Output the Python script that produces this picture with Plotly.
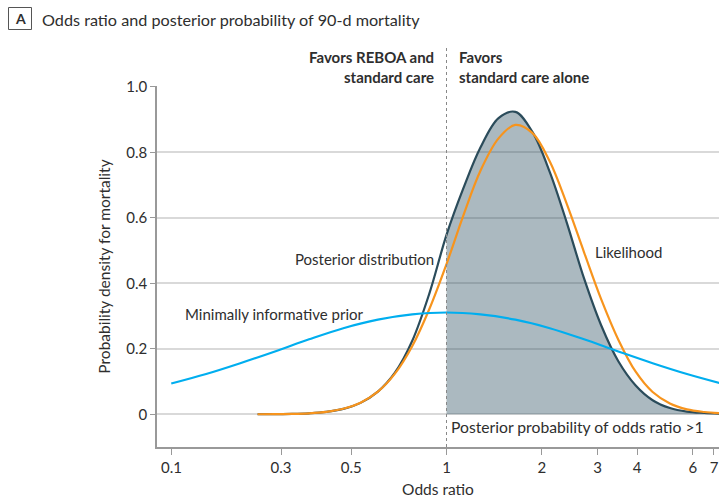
import plotly.graph_objects as go
import math

# ---- data ----
odds_ratio_prior = [0.135, 0.174, 0.223, 0.287, 0.368, 0.472, 0.607, 0.779, 1.0,
                    1.28, 1.65, 2.12, 2.72, 3.49, 4.48, 5.75, 7.39]
prior_density = [0.094, 0.123, 0.156, 0.192, 0.229, 0.263, 0.289, 0.305, 0.311,
                 0.305, 0.289, 0.263, 0.229, 0.192, 0.156, 0.123, 0.094]

odds_ratio = [0.253, 0.287, 0.325, 0.368, 0.417, 0.472, 0.535, 0.607, 0.687, 0.779,
              0.882, 1.0, 1.13, 1.28, 1.46, 1.65, 1.87, 2.12, 2.40, 2.72, 3.08,
              3.49, 3.96, 4.48, 5.08, 5.75, 6.52, 7.39]
posterior_density = [0.0, 0.0004, 0.0011, 0.003, 0.0072, 0.0165, 0.0348, 0.069, 0.127,
                     0.224, 0.368, 0.548, 0.69, 0.815, 0.905, 0.924, 0.862, 0.74,
                     0.585, 0.415, 0.272, 0.162, 0.088, 0.043, 0.019, 0.008, 0.004, 0.002]
likelihood_density = [0.0, 0.0004, 0.0011, 0.003, 0.0074, 0.0168, 0.0354, 0.069, 0.124,
                      0.208, 0.321, 0.459, 0.607, 0.744, 0.843, 0.884, 0.859, 0.772,
                      0.642, 0.495, 0.352, 0.228, 0.13, 0.068, 0.033, 0.015, 0.007, 0.003]

x_tick_vals = [0.1353, 0.3, 0.5, 1, 2, 3, 4, 6, 7]
x_tick_text = ["0.1", "0.3", "0.5", "1", "2", "3", "4", "6", "7"]
y_tick_vals = [0, 0.2, 0.4, 0.6, 0.8, 1.0]
y_tick_text = ["0", "0.2", "0.4", "0.6", "0.8", "1.0"]

# ---- styling ----
FONT = "Lato, Roboto, 'Liberation Sans', sans-serif"
TXT = "#2e2e2e"
C_POST = "#2b4c5b"
C_LIK = "#f7941d"
C_PRIOR = "#00aeef"

W, H = 719, 498
ML, MR, MT, MB = 157, 0, 86, 51
PW, PH = W - ML - MR, H - MT - MB
XR = [math.log10(0.1217), math.log10(7.26)]
YR = [-0.1, 1.003]


def px(xp):
    return (xp - ML) / PW


def py(yp):
    return (H - MB - yp) / PH


fig = go.Figure()

# shaded posterior probability OR > 1
shade_x = [o for o in odds_ratio if o >= 1.0]
shade_y = [d for o, d in zip(odds_ratio, posterior_density) if o >= 1.0]
fig.add_trace(go.Scatter(x=shade_x, y=shade_y, mode="lines", line=dict(width=0, shape="spline"),
                         fill="tozeroy", fillcolor="rgba(38,74,94,0.39)", hoverinfo="skip",
                         showlegend=False))

fig.add_trace(go.Scatter(x=odds_ratio, y=posterior_density, mode="lines",
                         line=dict(color=C_POST, width=2.2, shape="spline"), showlegend=False))
fig.add_trace(go.Scatter(x=odds_ratio, y=likelihood_density, mode="lines",
                         line=dict(color=C_LIK, width=2.2, shape="spline"), showlegend=False))
fig.add_trace(go.Scatter(x=odds_ratio_prior, y=prior_density, mode="lines",
                         line=dict(color=C_PRIOR, width=2.2, shape="spline"), showlegend=False))

x_one = (0 - XR[0]) / (XR[1] - XR[0])

shapes = [
    dict(type="line", xref="paper", yref="paper", x0=x_one, x1=x_one, y0=0, y1=py(46),
         line=dict(color="#888888", width=1, dash="dot")),
    dict(type="rect", xref="paper", yref="paper", x0=px(8.5), x1=px(31.5), y0=py(29.5), y1=py(7.5),
         line=dict(color="#555555", width=1), fillcolor="rgba(0,0,0,0)"),
]


def A(xp, yp, text, xanchor="left", size=15, align="left"):
    return dict(x=px(xp), y=py(yp), xref="paper", yref="paper", text=text, showarrow=False,
                xanchor=xanchor, yanchor="middle", align=align, font=dict(size=size, color=TXT))


ann = [
    A(20, 18.5, "<b>A</b>", xanchor="center", size=14),
    A(40, 19, "Odds ratio and posterior probability of 90-d mortality", size=16.2),
    A(436, 67, "<b>Favors REBOA and<br>standard care</b>", xanchor="right", align="right"),
    A(457, 67, "<b>Favors<br>standard care alone</b>"),
    A(436, 259, "Posterior distribution", xanchor="right"),
    A(183, 314, "Minimally informative prior"),
    A(593, 252, "Likelihood"),
    A(449, 427, "Posterior probability of odds ratio &gt;1", size=15.7),
]

fig.update_layout(
    width=W, height=H,
    margin=dict(l=ML, r=MR, t=MT, b=MB),
    paper_bgcolor="white", plot_bgcolor="white",
    font=dict(family=FONT, color=TXT, size=15),
    shapes=shapes, annotations=ann,
    xaxis=dict(type="log", range=XR, tickvals=x_tick_vals, ticktext=x_tick_text,
               showgrid=False, zeroline=False, showline=True, linecolor="#999999", linewidth=1.5,
               ticks="outside", ticklen=6, tickcolor="#999999", tickwidth=1.2,
               tickfont=dict(size=15, color=TXT), automargin=False,
               title=dict(text="Odds ratio", font=dict(size=15.5, color=TXT), standoff=9)),
    yaxis=dict(range=YR, tickvals=y_tick_vals, ticktext=y_tick_text,
               showgrid=True, gridcolor="#d9d9d9", gridwidth=1.5, zeroline=False,
               showline=True, linecolor="#999999", linewidth=1.5,
               ticks="outside", ticklen=5, tickcolor="#999999", tickwidth=1.2,
               tickfont=dict(size=15, color=TXT), automargin=False,
               title=dict(text="Probability density for mortality", font=dict(size=15.5, color=TXT),
                          standoff=12)),
)

fig.write_html("out.html", config={"displayModeBar": False},
               post_script="document.body.style.margin='0px';document.body.style.overflow='hidden';")
